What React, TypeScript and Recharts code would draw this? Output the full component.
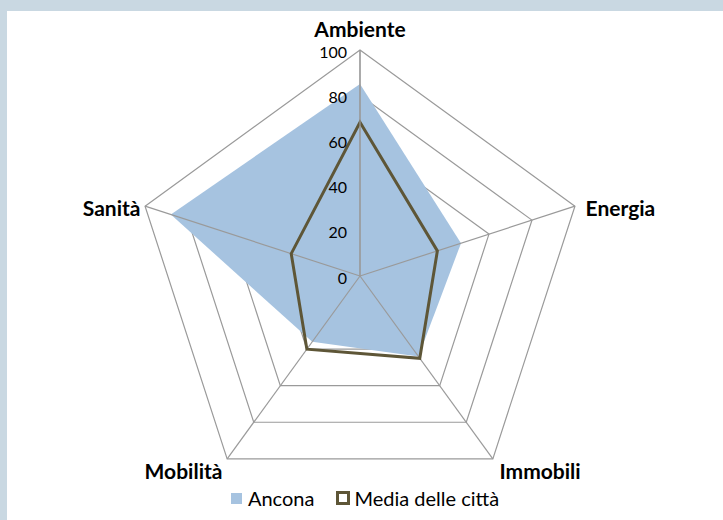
import React from 'react';
import { RadarChart, Radar, PolarGrid, PolarAngleAxis, PolarRadiusAxis, Legend } from 'recharts';

const categories = ['Ambiente', 'Energia', 'Immobili', 'Mobilità', 'Sanità'];
const ancona = [85, 47, 44, 36, 88];
const mediaCitta = [68, 36, 45, 40, 32];
const radiusTicks = [0, 20, 40, 60, 80, 100];

const data = categories.map((name, i) => ({ name, ancona: ancona[i], media: mediaCitta[i] }));

// spoke angles: start at the top, clockwise, one per category
const spokeAngles = categories.map((_, i) => 90 - (360 / categories.length) * i);

const FONT = 'Lato, "Open Sans", sans-serif';
const W = 716;
const H = 509;

const AngleTick = (props: any) => {
  const { x, y, textAnchor, payload, index } = props;
  const dy = index === 0 ? -14 : index === 1 || index === 4 ? 4 : 5;
  const dx = index === 4 ? 3 : index === 1 ? 3 : index === 2 ? 2 : 0;
  return (
    <text x={x + dx} y={y + dy} textAnchor={textAnchor} dominantBaseline="central"
      fontFamily={FONT} fontWeight={700} fontSize={21} fill="#000">
      {payload.value}
    </text>
  );
};

const RadiusTick = (props: any) => {
  const { x, y, payload } = props;
  return (
    <text x={x - 13} y={y + 1} textAnchor="end" dominantBaseline="central"
      fontFamily={FONT} fontSize={16} fill="#000">
      {payload.value}
    </text>
  );
};

const LegendContent = () => (
  <div style={{ display: 'flex', justifyContent: 'center', alignItems: 'center', fontFamily: FONT, fontSize: 20, color: '#000' }}>
    <span style={{ width: 11, height: 11, background: '#A6C3E0', display: 'inline-block', marginRight: 6 }} />
    <span style={{ marginRight: 22 }}>Ancona</span>
    <span style={{ width: 8, height: 8, border: '3px solid #5E5637', background: '#fff', display: 'inline-block', marginRight: 4 }} />
    <span>Media delle città</span>
  </div>
);

export default function App() {
  return (
    <div style={{ position: 'fixed', left: 0, top: 0, width: 723, height: 520, background: '#C9D8E2' }}>
      <div style={{ position: 'absolute', left: 7, top: 11, width: W, height: H, background: '#fff' }}>
        {/* rings and filled series underneath */}
        <div style={{ position: 'absolute', left: 0, top: 0 }}>
          <RadarChart width={W} height={H} data={data} cx={353} cy={265} outerRadius={226}
            margin={{ top: 0, right: 0, bottom: 0, left: 0 }}>
            <PolarGrid gridType="polygon" stroke="#9A9A9A" strokeWidth={1.2} radialLines={false} />
            <PolarAngleAxis dataKey="name" tick={false} tickLine={false} axisLine={false} />
            <PolarRadiusAxis angle={90} domain={[0, 100]} ticks={radiusTicks as any} tick={false} axisLine={false} tickLine={false} />
            <Radar name="Ancona" dataKey="ancona" fill="#A6C3E0" fillOpacity={1} stroke="none" dot={false} isAnimationActive={false} />
          </RadarChart>
        </div>
        {/* spokes, labels and line series on top */}
        <div style={{ position: 'absolute', left: 0, top: 0 }}>
          <RadarChart width={W} height={H} data={data} cx={353} cy={265} outerRadius={226}
            margin={{ top: 0, right: 0, bottom: 0, left: 0 }}>
            <PolarGrid gridType="polygon" stroke="#9A9A9A" strokeWidth={1.2} radialLines={true}
              polarAngles={spokeAngles} polarRadius={[]} />
            <PolarAngleAxis dataKey="name" tick={AngleTick} tickLine={false} axisLine={false} />
            <PolarRadiusAxis angle={90} domain={[0, 100]} ticks={radiusTicks as any} tickCount={6} tick={RadiusTick}
              axisLine={{ stroke: '#9A9A9A', strokeWidth: 1.2 }} tickLine={false} />
            <Radar name="Media delle città" dataKey="media" fill="none" fillOpacity={0} stroke="#5E5637" strokeWidth={3} dot={false} isAnimationActive={false} />
            <Legend content={LegendContent} wrapperStyle={{ position: 'absolute', left: 0, bottom: 10, width: W }} />
          </RadarChart>
        </div>
      </div>
    </div>
  );
}
